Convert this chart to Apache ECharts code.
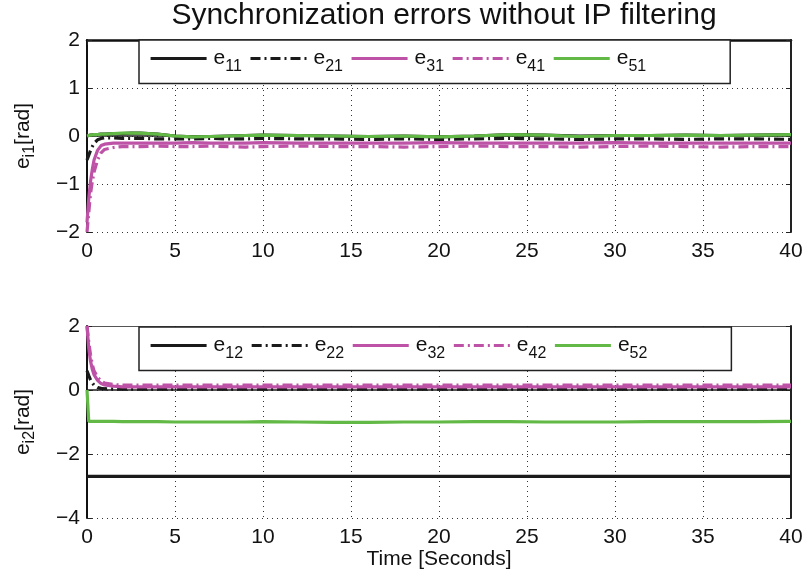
<!DOCTYPE html>
<html><head><meta charset="utf-8">
<script src="https://cdn.jsdelivr.net/npm/echarts@6/dist/echarts.min.js"></script>
<style>html,body{margin:0;padding:0;background:#fff}#c{width:806px;height:574px}</style>
</head><body><div id="c"></div>
<script>
var time = [0,0.1,0.2,0.3,0.4,0.6,0.8,1,1.5,2,2.5,3,4,5,6,7,8,9,10,12,14,16,18,20,22,24,26,28,30,32,34,36,38,40];
// top panel (e_i1)
var e11 = [0,0.01,0.02,0.02,0.03,0.03,0.04,0.04,0.05,0.05,0.06,0.06,0.04,0.0,-0.02,-0.01,0.0,0.01,0.02,0.01,0.0,-0.01,0.0,-0.02,0.0,0.03,0.02,0.0,0.01,0.01,0.02,0.01,0.02,0.03];
var e21 = [-0.5,-0.4,-0.3,-0.22,-0.15,-0.08,-0.05,-0.04,-0.04,-0.05,-0.05,-0.05,-0.06,-0.06,-0.06,-0.05,-0.06,-0.06,-0.05,-0.06,-0.06,-0.07,-0.06,-0.07,-0.06,-0.05,-0.06,-0.07,-0.06,-0.06,-0.07,-0.06,-0.06,-0.07];
var e31 = [-1.8,-1.3,-0.95,-0.7,-0.5,-0.3,-0.2,-0.17,-0.15,-0.15,-0.15,-0.15,-0.15,-0.15,-0.14,-0.15,-0.15,-0.15,-0.14,-0.15,-0.15,-0.15,-0.15,-0.14,-0.15,-0.15,-0.15,-0.15,-0.14,-0.15,-0.15,-0.15,-0.15,-0.15];
var e41 = [-2.0,-1.6,-1.2,-0.95,-0.75,-0.5,-0.35,-0.28,-0.24,-0.22,-0.22,-0.22,-0.21,-0.22,-0.22,-0.21,-0.22,-0.23,-0.22,-0.21,-0.22,-0.22,-0.23,-0.22,-0.21,-0.22,-0.22,-0.23,-0.22,-0.21,-0.22,-0.23,-0.22,-0.22];
var e51 = [0,0.01,0.02,0.02,0.03,0.03,0.04,0.04,0.05,0.06,0.06,0.06,0.04,0.0,-0.02,-0.01,0.0,0.01,0.02,0.01,0.0,-0.01,0.0,-0.02,0.0,0.03,0.02,-0.01,0.01,0.01,0.02,0.01,0.02,0.03];
// bottom panel (e_i2)
var e12 = [-2.7,-2.7,-2.7,-2.7,-2.7,-2.7,-2.7,-2.7,-2.7,-2.7,-2.7,-2.7,-2.7,-2.7,-2.7,-2.7,-2.7,-2.7,-2.7,-2.7,-2.7,-2.7,-2.7,-2.7,-2.7,-2.7,-2.7,-2.7,-2.7,-2.7,-2.7,-2.7,-2.7,-2.7];
var e22 = [0.6,0.45,0.32,0.22,0.15,0.08,0.05,0.04,0.03,0.03,0.03,0.03,0.03,0.03,0.03,0.03,0.03,0.03,0.03,0.03,0.03,0.03,0.03,0.03,0.03,0.03,0.03,0.03,0.03,0.03,0.03,0.03,0.03,0.03];
var e32 = [2.0,1.3,0.9,0.65,0.48,0.3,0.2,0.16,0.12,0.1,0.1,0.1,0.1,0.1,0.1,0.1,0.1,0.1,0.1,0.1,0.1,0.1,0.1,0.1,0.1,0.1,0.1,0.1,0.1,0.1,0.1,0.1,0.1,0.1];
var e42 = [2.0,1.5,1.1,0.8,0.6,0.4,0.28,0.22,0.17,0.15,0.15,0.15,0.15,0.15,0.15,0.15,0.15,0.15,0.15,0.15,0.15,0.15,0.15,0.15,0.15,0.15,0.15,0.15,0.15,0.15,0.15,0.15,0.15,0.15];
var e52 = [0,-0.98,-0.98,-0.98,-0.98,-0.98,-0.98,-0.98,-0.98,-0.99,-0.99,-0.99,-0.99,-1.0,-1.0,-1.0,-1.0,-1.0,-0.99,-1.0,-1.01,-1.01,-1.0,-1.0,-0.99,-0.99,-1.0,-1.0,-1.0,-0.99,-0.99,-0.99,-0.99,-0.98];

var xTicks = [0,5,10,15,20,25,30,35,40];
var yTicksTop = [-2,-1,0,1,2];
var yTicksBot = [-4,-2,0,2];

var FONT = "'Liberation Sans'";
function pairs(v){ return time.map(function(t,i){ return [t, v[i]]; }); }
var BLACK = '#1a1a1a', MAG = '#bd52a6', GRN = '#63b946';
var DASHDOT = [10,4,2,4];
function mk(name, v, color, dash, g){
  return {name:name, type:'line', xAxisIndex:g*2, yAxisIndex:g*2, data:pairs(v), showSymbol:false, symbol:'none',
    lineStyle:{color:color, width:3.2, type:dash?DASHDOT:'solid'}, itemStyle:{color:color}, animation:false, z:3};
}
function minus(v){ return String(v).replace('-', '\u2212'); }
var gridDef = [{left:87, top:40, width:704, height:192},{left:87, top:326, width:704, height:192}];
var yr = [[yTicksTop[0], yTicksTop[yTicksTop.length-1], yTicksTop[1]-yTicksTop[0]],[yTicksBot[0], yTicksBot[yTicksBot.length-1], yTicksBot[1]-yTicksBot[0]]];
var xAxes = [], yAxes = [];
[0,1].forEach(function(g){
  xAxes.push({type:'value', gridIndex:g, min:xTicks[0], max:xTicks[xTicks.length-1], interval:xTicks[1]-xTicks[0],
    axisLine:{lineStyle:{color:'#222', width:1.5}}, axisTick:{inside:true, length:5, lineStyle:{color:'#222'}},
    axisLabel:{color:'#111', fontSize:21, fontFamily:FONT, margin:9},
    splitLine:{show:true, lineStyle:{color:'#333', type:[1,4], width:1}},
    name: g===1 ? 'Time [Seconds]' : '', nameLocation:'middle', nameGap:24,
    nameTextStyle:{fontSize:21, color:'#111', fontFamily:FONT}});
  xAxes.push({type:'value', gridIndex:g, position:'top', min:xTicks[0], max:xTicks[xTicks.length-1], interval:xTicks[1]-xTicks[0],
    axisLine:{onZero:false, lineStyle:{color:g===0?'#111':'#555', width:g===0?2.5:1}}, axisTick:{inside:true, length:5, lineStyle:{color:'#222'}},
    axisLabel:{show:false}, splitLine:{show:false}});
  var sub = g===0 ? 'i1' : 'i2';
  yAxes.push({type:'value', gridIndex:g, min:yr[g][0], max:yr[g][1], interval:yr[g][2],
    axisLine:{onZero:false, lineStyle:{color:'#111', width:2}}, axisTick:{inside:true, length:5, lineStyle:{color:'#222'}},
    axisLabel:{color:'#111', fontSize:21, fontFamily:FONT, margin:7, formatter:minus},
    splitLine:{show:true, lineStyle:{color:'#333', type:[1,4], width:1}},
    name:'{a|e}{b|' + sub + '}{a|[rad]}', nameLocation:'middle', nameGap:49, nameRotate:90,
    nameTextStyle:{rich:{a:{fontSize:21, color:'#111', fontFamily:FONT}, b:{fontSize:16, color:'#111', fontFamily:FONT, padding:[13,0,0,0]}}}});
  yAxes.push({type:'value', gridIndex:g, position:'right', min:yr[g][0], max:yr[g][1], interval:yr[g][2],
    axisLine:{onZero:false, lineStyle:{color:'#222', width:2}}, axisTick:{inside:true, length:5, lineStyle:{color:'#222'}},
    axisLabel:{show:false}, splitLine:{show:false}});
});

function legendFmt(name){ return '{a|e}{b|' + name.slice(1) + '}'; }
var legRich = {a:{fontSize:21, color:'#111', fontFamily:FONT}, b:{fontSize:16, color:'#111', fontFamily:FONT, padding:[16,0,0,0]}};
function legend(names, top){
  return {data:names, left:139, top:top, orient:'horizontal', itemWidth:56, itemHeight:14, itemGap:7,
    padding:[8,84,9,10], backgroundColor:'#fff', borderColor:'#222', borderWidth:1.5,
    itemStyle:{opacity:0}, lineStyle:{width:3.2},
    formatter:legendFmt, textStyle:{rich:legRich, padding:[0,0,0,2]}, selectedMode:false, z:10};
}

var chart = echarts.init(document.getElementById('c'), null, {renderer:'canvas'});
chart.setOption({
  animation:false,
  backgroundColor:'#fff',
  title:{text:'Synchronization errors without IP filtering', left:439, textAlign:'center', top:-4, textStyle:{fontSize:30, fontWeight:'normal', color:'#111', fontFamily:FONT}},
  grid:gridDef,
  xAxis:xAxes, yAxis:yAxes,
  legend:[legend(['e11','e21','e31','e41','e51'], 40), legend(['e12','e22','e32','e42','e52'], 327)],
  series:[
    mk('e11', e11, BLACK, false, 0), mk('e21', e21, BLACK, true, 0), mk('e31', e31, MAG, false, 0), mk('e41', e41, MAG, true, 0), mk('e51', e51, GRN, false, 0),
    mk('e12', e12, BLACK, false, 1), mk('e22', e22, BLACK, true, 1), mk('e32', e32, MAG, false, 1), mk('e42', e42, MAG, true, 1), mk('e52', e52, GRN, false, 1)
  ]
});
</script></body></html>
